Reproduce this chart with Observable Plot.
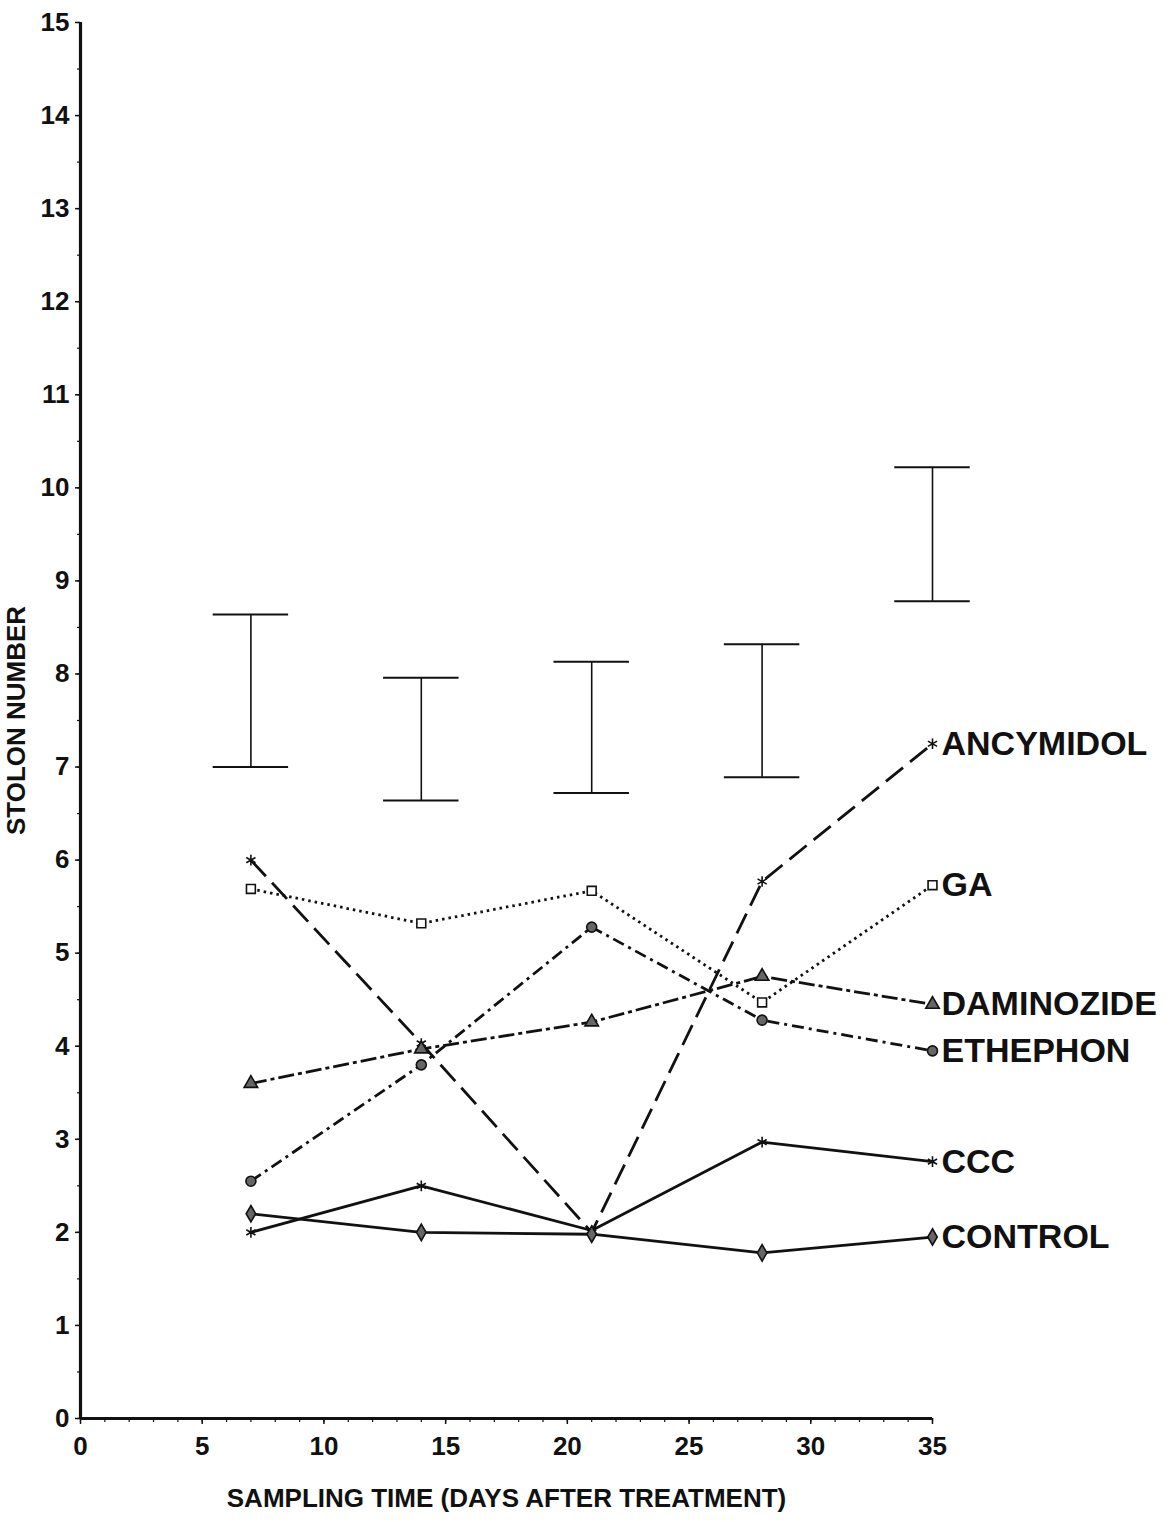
<!DOCTYPE html>
<html>
<head>
<meta charset="utf-8">
<script src="https://cdn.jsdelivr.net/npm/d3@7"></script>
<script src="https://cdn.jsdelivr.net/npm/@observablehq/plot@0.6"></script>
<style>
  html, body { margin: 0; padding: 0; background: #fff; }
  #chart svg { display: block; }
</style>
</head>
<body>
<div id="chart"></div>
<script>
// Sampling days (days after treatment)
const days = [7, 14, 21, 28, 35];

// Mean stolon number per treatment
const treatments = ["ANCYMIDOL", "GA", "DAMINOZIDE", "ETHEPHON", "CCC", "CONTROL"];
const ancymidol  = [6.0, 4.03, 2.0, 5.77, 7.25];
const ga         = [5.69, 5.32, 5.67, 4.47, 5.73];
const daminozide = [3.6, 3.97, 4.26, 4.75, 4.45];
const ethephon   = [2.55, 3.8, 5.28, 4.28, 3.95];
const ccc        = [2.0, 2.5, 2.02, 2.97, 2.76];
const control    = [2.2, 2.0, 1.98, 1.78, 1.95];

// LSD bars at each sampling time
const barLow  = [7.0, 6.64, 6.72, 6.89, 8.78];
const barHigh = [8.64, 7.96, 8.13, 8.32, 10.22];

// Tick values
const xTicks = [0, 5, 10, 15, 20, 25, 30, 35];
const yTicks = [0, 1, 2, 3, 4, 5, 6, 7, 8, 9, 10, 11, 12, 13, 14, 15];

// Build long-form rows for the library
const seriesValues = [ancymidol, ga, daminozide, ethephon, ccc, control];
const rows = treatments.flatMap((name, i) =>
  days.map((day, j) => ({treatment: name, day, value: seriesValues[i][j]}))
);
const bars = days.map((day, j) => ({day, low: barLow[j], high: barHigh[j]}));

// Line and marker styling per treatment
const styleOf = {
  ANCYMIDOL:  {dash: "22,9",        symbol: "asterisk", fill: "none"},
  GA:         {dash: "2.5,4",       symbol: "square",   fill: "white"},
  DAMINOZIDE: {dash: "16,4,4,4",    symbol: "triangle", fill: "#666"},
  ETHEPHON:   {dash: "12,5,3,5",    symbol: "circle",   fill: "#666"},
  CCC:        {dash: null,          symbol: "asterisk", fill: "none"},
  CONTROL:    {dash: null,          symbol: "diamond",  fill: "#666"}
};

const ink = "#111";
const capHalf = 1.55; // half-width of LSD bar caps, in days

const marks = [];

// LSD bars: stem and caps
marks.push(Plot.ruleX(bars, {x: "day", y1: "low", y2: "high", stroke: ink, strokeWidth: 1.6}));
marks.push(Plot.ruleY(bars, {y: "high", x1: d => d.day - capHalf, x2: d => d.day + capHalf, stroke: ink, strokeWidth: 2}));
marks.push(Plot.ruleY(bars, {y: "low", x1: d => d.day - capHalf, x2: d => d.day + capHalf, stroke: ink, strokeWidth: 2}));

// Treatment lines and markers
for (const name of treatments) {
  const s = styleOf[name];
  const data = rows.filter(d => d.treatment === name);
  marks.push(Plot.line(data, {
    x: "day", y: "value", stroke: ink, strokeWidth: 2.8,
    strokeDasharray: s.dash ?? undefined, strokeLinecap: "butt"
  }));
  marks.push(Plot.dot(data, {
    x: "day", y: "value", symbol: () => s.symbol, r: 5,
    fill: s.fill, stroke: ink, strokeWidth: 1.6
  }));
}

// End-of-line treatment names
marks.push(Plot.text(rows.filter(d => d.day === 35), {
  x: "day", y: "value", text: "treatment", textAnchor: "start", dx: 9,
  fontSize: 34, fontWeight: "bold", fill: ink
}));

// Axes: minor ticks, major ticks with labels, titles
marks.push(Plot.axisX(d3.range(0, 36, 1), {tickSize: 4, text: null, label: null, strokeWidth: 1.2}));
marks.push(Plot.axisX(xTicks, {
  tickSize: 6, tickPadding: 12, strokeWidth: 1.5, tickFormat: "d",
  label: "SAMPLING TIME (DAYS AFTER TREATMENT)", labelAnchor: "center", labelArrow: false, labelOffset: 88
}));
marks.push(Plot.axisY(d3.range(0, 15.01, 0.5), {tickSize: 3, text: null, label: null, strokeWidth: 1.2}));
marks.push(Plot.axisY(yTicks, {
  tickSize: 5, tickPadding: 6, strokeWidth: 1.5, tickFormat: "d",
  label: "STOLON NUMBER", labelAnchor: "center", labelArrow: false, labelOffset: 74
}));
marks.push(Plot.ruleX([0], {stroke: ink, strokeWidth: 3.2}));
marks.push(Plot.ruleY([0], {stroke: ink, strokeWidth: 3.2}));

const chart = Plot.plot({
  width: 1172,
  height: 1522,
  marginLeft: 80,
  marginRight: 240,
  marginTop: 22,
  marginBottom: 104,
  x: {domain: [0, 35]},
  y: {domain: [0, 15]},
  symbol: {type: "identity"},
  style: {
    fontFamily: "'Liberation Sans', Arial, sans-serif",
    fontSize: "26px",
    fontWeight: "bold",
    color: ink,
    background: "#fff"
  },
  marks
});

// Axis title size
for (const g of chart.querySelectorAll('[aria-label="x-axis label"], [aria-label="y-axis label"]')) {
  g.setAttribute("font-size", "26");
  g.style.fontSize = "26px";
}

document.getElementById("chart").appendChild(chart);
</script>
</body>
</html>
